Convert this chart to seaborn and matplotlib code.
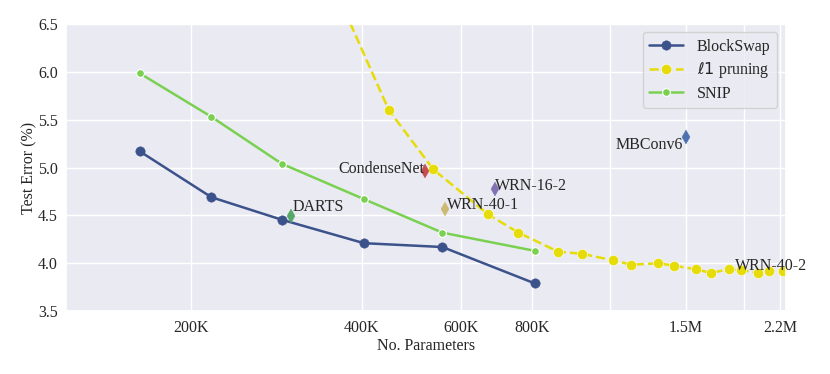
import numpy as np
import pandas as pd
import matplotlib
matplotlib.use("Agg")
import matplotlib.pyplot as plt
import seaborn as sns

# ---- data ----
blockswap_params = [162e3, 217e3, 289e3, 404e3, 556e3, 810e3]
blockswap_error = [5.17, 4.69, 4.455, 4.21, 4.17, 3.79]

snip_params = [162e3, 217e3, 289e3, 404e3, 556e3, 810e3]
snip_error = [5.985, 5.53, 5.04, 4.67, 4.32, 4.13]

l1_params = [330e3, 447e3, 536e3, 670e3, 758e3, 892e3, 981e3, 1.116e6, 1.20e6,
             1.34e6, 1.43e6, 1.56e6, 1.66e6, 1.785e6, 1.875e6, 2.01e6, 2.10e6, 2.23e6]
l1_error = [7.35, 5.60, 4.98, 4.51, 4.32, 4.12, 4.10, 4.03, 3.985,
            4.0, 3.975, 3.937, 3.90, 3.937, 3.93, 3.90, 3.92, 3.92]

model_names = ["DARTS", "CondenseNet", "WRN-40-1", "WRN-16-2", "MBConv6", "WRN-40-2"]
model_params = [300e3, 519e3, 563e3, 690e3, 1.5e6, 2.28e6]
model_error = [4.49, 4.96, 4.57, 4.78, 5.32, 3.99]

tick_values = [200e3, 400e3, 600e3, 800e3, 1.1e6, 1.5e6, 1.9e6, 2.2e6]
tick_labels = ["200K", "400K", "600K", "800K", "", "1.5M", "", "2.2M"]

# ---- style ----
sns.set_theme(style="darkgrid")
plt.rcParams["font.family"] = ["Liberation Serif", "DejaVu Serif"]
plt.rcParams["mathtext.fontset"] = "dejavusans"
FS = 11.5

fig = plt.figure(figsize=(8.3, 3.74), dpi=100)
ax = fig.add_axes([0.0795, 0.168, 0.867, 0.768])

c_block = "#3b528b"
c_l1 = "#e6dc0a"
c_snip = "#7ad151"

sns.lineplot(x=blockswap_params, y=blockswap_error, ax=ax, color=c_block,
             marker="o", markersize=6.8, linewidth=1.8, label="BlockSwap",
             markeredgecolor=c_block, markeredgewidth=0.3)
sns.lineplot(x=l1_params, y=l1_error, ax=ax, color=c_l1, linestyle="--",
             dashes=(3.2, 1.8),
             marker="o", markersize=7.4, linewidth=1.8, label=r"$\ell1$ pruning",
             markeredgecolor="white", markeredgewidth=0.4)
sns.lineplot(x=snip_params, y=snip_error, ax=ax, color=c_snip,
             marker="o", markersize=5.6, linewidth=1.8, label="SNIP",
             markeredgecolor="white", markeredgewidth=0.8)

deep = sns.color_palette("deep")
model_colors = [deep[2], deep[3], deep[8], deep[4], deep[0], deep[9]]
offsets = [(1, 4), (-1, -1), (1, 0), (0, -1), (-2, 0), (-39, -4)]
has = ["left", "right", "left", "left", "right", "left"]
vas = ["baseline", "baseline", "baseline", "baseline", "top", "baseline"]

for name, p, e, col, off, ha, va in zip(model_names, model_params, model_error,
                                        model_colors, offsets, has, vas):
    ax.plot([p], [e], marker="d", markersize=7.5, color=col, linestyle="none",
            markeredgecolor=col, markeredgewidth=0.3)
    ax.annotate(name, (p, e), xytext=off, textcoords="offset points",
                ha=ha, va=va, fontsize=FS, color="#262626", annotation_clip=False)

ax.set_xscale("log")
ax.set_xlim(120e3, 2.25e6)
ax.set_ylim(3.5, 6.5)
ax.set_xticks(tick_values)
ax.set_xticklabels(tick_labels)
ax.xaxis.set_minor_locator(matplotlib.ticker.NullLocator())
ax.set_yticks([3.5, 4.0, 4.5, 5.0, 5.5, 6.0, 6.5])
ax.tick_params(axis="x", labelsize=FS, pad=0)
ax.tick_params(axis="y", labelsize=FS, pad=0)
ax.set_xlabel("No. Parameters", fontsize=FS, labelpad=2)
ax.set_ylabel("Test Error (%)", fontsize=FS, labelpad=0.5)

leg = ax.legend(loc="upper right", fontsize=FS, frameon=True,
                bbox_to_anchor=(0.999, 0.999), handlelength=2.1,
                labelspacing=0.35, handletextpad=0.9)

fig.savefig("out.png", dpi=100)
